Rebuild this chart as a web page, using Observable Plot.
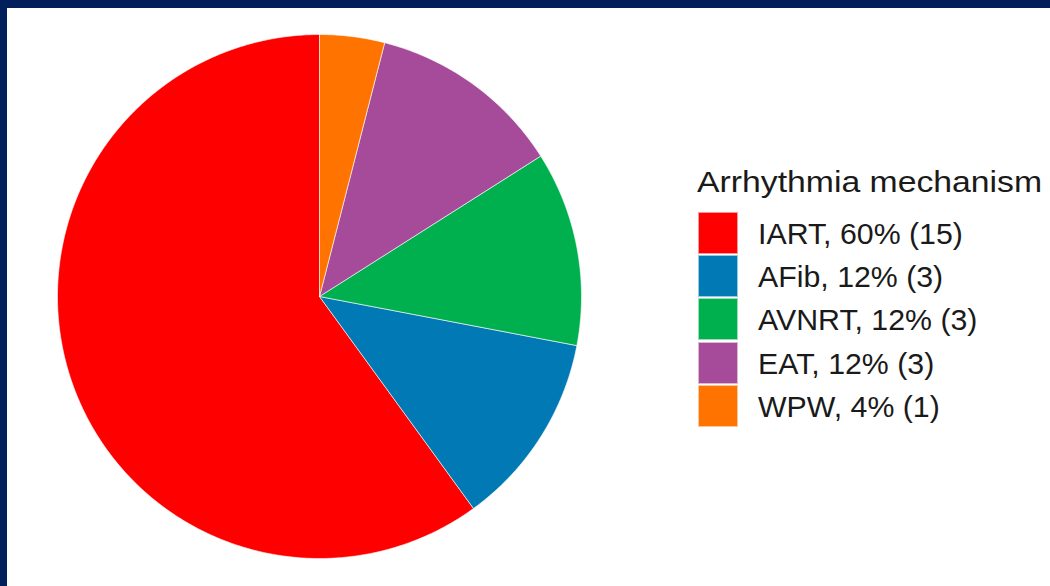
<!DOCTYPE html>
<html>
<head>
<meta charset="utf-8">
<script src="https://cdn.jsdelivr.net/npm/d3@7"></script>
<script src="https://cdn.jsdelivr.net/npm/@observablehq/plot@0.6"></script>
<style>
  html, body { margin: 0; padding: 0; }
  body { width: 1050px; height: 586px; background: #001f5b; position: relative; overflow: hidden; font-family: Arial, "Liberation Sans", sans-serif; }
  #panel { position: absolute; left: 7px; top: 8px; width: 1043px; height: 578px; background: #fff; }
  #chart { position: absolute; left: 0; top: 0; }
  #legend { position: absolute; left: 690px; top: 0; }
  .ltitle { position: absolute; left: 0; top: 159px; font-size: 30px; line-height: 30px; color: #1a1a1a; white-space: nowrap; transform-origin: left top; transform: scaleX(1.125); }
  .lrow { position: absolute; left: 1px; height: 43.2px; white-space: nowrap; }
  .lsw { position: absolute; left: 0; top: 0; width: 40px; height: 42px; border: 1px solid rgba(255,255,255,0.6); box-sizing: border-box; }
  .ltxt { position: absolute; left: 60px; top: 7px; font-size: 30.3px; line-height: 30px; color: #1a1a1a; }
</style>
</head>
<body>
<div id="panel">
  <div id="chart"></div>
  <div id="legend"></div>
</div>
<script>
const categories = ["IART", "AFib", "AVNRT", "EAT", "WPW"];
const counts = [15, 3, 3, 3, 1];
const percents = [60, 12, 12, 12, 4];
const colors = ["#ff0000", "#0079b4", "#00b04f", "#a54b9a", "#ff7300"];
const legendTitle = "Arrhythmia mechanism";

const data = categories.map((c, i) => ({category: c, count: counts[i], percent: percents[i]}));

// pie layout: start at 12 o'clock, counterclockwise, legend order
const arcs = d3.pie().sort(null).value(d => d.count).startAngle(0).endAngle(-2 * Math.PI)(data);

// polygon points in unit data coordinates (y up)
const pts = [];
arcs.forEach(a => {
  const cat = a.data.category;
  pts.push({category: cat, x: 0, y: 0});
  const n = Math.max(4, Math.ceil(Math.abs(a.endAngle - a.startAngle) / (Math.PI / 360)));
  for (let k = 0; k <= n; k++) {
    const t = a.startAngle + (a.endAngle - a.startAngle) * k / n;
    pts.push({category: cat, x: Math.sin(t), y: Math.cos(t)});
  }
  pts.push({category: cat, x: 0, y: 0});
});

const plot = Plot.plot({
  width: 650,
  height: 578,
  margin: 0,
  x: {domain: [-1, 1], range: [50, 574], axis: null},
  y: {domain: [-1, 1], range: [550, 26], axis: null},
  color: {domain: categories, range: colors},
  style: {background: "transparent"},
  marks: [
    Plot.line(pts, {x: "x", y: "y", z: "category", fill: "category", stroke: "white", strokeWidth: 0.6, strokeLinejoin: "round", curve: "linear"})
  ]
});
document.getElementById("chart").appendChild(plot);

// legend
const lg = document.getElementById("legend");
const t = document.createElement("div");
t.className = "ltitle";
t.textContent = legendTitle;
lg.appendChild(t);
data.forEach((d, i) => {
  const row = document.createElement("div");
  row.className = "lrow";
  row.style.top = (204 + i * 43.2) + "px";
  const sw = document.createElement("div");
  sw.className = "lsw";
  sw.style.background = colors[i];
  const tx = document.createElement("div");
  tx.className = "ltxt";
  tx.textContent = `${d.category}, ${d.percent}% (${d.count})`;
  row.appendChild(sw);
  row.appendChild(tx);
  lg.appendChild(row);
});
</script>
</body>
</html>
